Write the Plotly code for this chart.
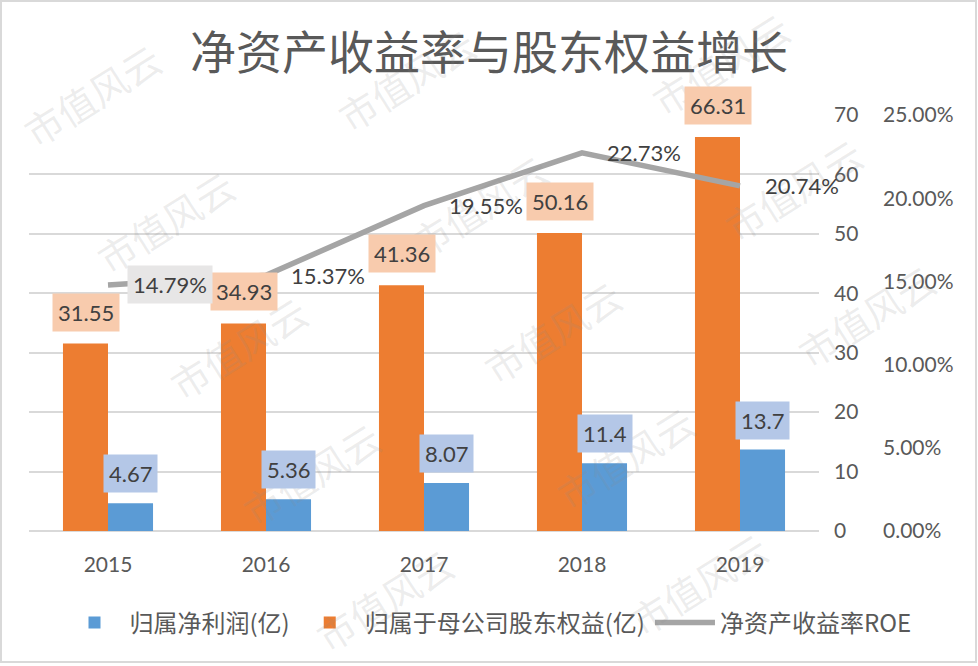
import plotly.graph_objects as go

years = ["2015", "2016", "2017", "2018", "2019"]
net_profit = [4.67, 5.36, 8.07, 11.4, 13.7]
equity = [31.55, 34.93, 41.36, 50.16, 66.31]
roe = [14.79, 15.37, 19.55, 22.73, 20.74]
roe_labels = ["14.79%", "15.37%", "19.55%", "22.73%", "20.74%"]

W, H = 978, 666
L, R, T, B = 29, 0, 115, 135
PW, PH = W - L - R, H - T - B
X_END = 819  # right end of plot area in px

def px(x):
    return (x - L) / PW

def py(y):
    return (H - B - y) / PH

FONT = "Lato, 'Noto Sans CJK SC', sans-serif"
CJK = "'Noto Sans CJK SC', Lato, sans-serif"
TXT = "#595959"

fig = go.Figure()
fig.add_trace(go.Bar(x=years, y=equity, name="归属于母公司股东权益(亿)",
                     marker=dict(color="#ED7D31", line=dict(width=0)),
                     legendrank=2, hoverinfo="y"))
fig.add_trace(go.Bar(x=years, y=net_profit, name="归属净利润(亿)",
                     marker=dict(color="#5B9BD5", line=dict(width=0)),
                     legendrank=1, hoverinfo="y"))
fig.add_trace(go.Scatter(x=years, y=roe, name="净资产收益率ROE", yaxis="y2",
                         mode="lines", line=dict(color="#A5A5A5", width=5.5),
                         legendrank=3))

ann = []
# watermark tiling (drawn first so data labels sit on top)
for i in range(-2, 5):
    for j in range(-1, 7):
        cx = 92 + 314 * i + 73 * j
        cy = 95 - 16 * i + 126 * j
        if 88 <= cx <= 895 and 55 <= cy <= 612:
            ann.append(dict(x=px(cx), y=py(cy), xref="paper", yref="paper",
                            xanchor="center", yanchor="middle",
                            text="市值风云", showarrow=False, textangle=-32,
                            font=dict(family=CJK, size=38, color="rgba(140,140,140,0.16)")))

for i, v in enumerate(equity):
    ann.append(dict(x=i, y=v, xref="x", yref="y", text=f"{v:.2f}", showarrow=False,
                    xshift=-22.5, yshift=12, yanchor="bottom", bgcolor="#F8CBAD",
                    borderpad=5, font=dict(family=FONT, size=22, color="#404040")))
for i, v in enumerate(net_profit):
    ann.append(dict(x=i, y=v, xref="x", yref="y", text=f"{v:g}", showarrow=False,
                    xshift=22.5, yshift=10, yanchor="bottom", bgcolor="#B4C7E7",
                    borderpad=5, font=dict(family=FONT, size=22, color="#404040")))
for i, (v, lab) in enumerate(zip(roe, roe_labels)):
    ann.append(dict(x=i, y=v, xref="x", yref="y2", text=lab, showarrow=False,
                    xshift=19, xanchor="left", yanchor="middle",
                    bgcolor="#E7E6E6" if i == 0 else "rgba(0,0,0,0)",
                    borderpad=5, font=dict(family=FONT, size=22, color="#404040")))

fig.update_layout(
    width=W, height=H,
    margin=dict(l=L, r=R, t=T, b=B),
    paper_bgcolor="white", plot_bgcolor="white",
    font=dict(family=FONT, size=21, color=TXT),
    title=dict(text="净资产收益率与股东权益增长", x=0.5, xref="container",
               y=1 - 53 / H, yref="container", yanchor="middle", xanchor="center",
               font=dict(family=CJK, size=46, color=TXT)),
    barmode="group", bargap=0.43, bargroupgap=0,
    xaxis=dict(domain=[0, px(X_END)], type="category", range=[-0.5, 4.5],
               showgrid=False, showline=False,
               ticks="", ticklabelstandoff=19, tickfont=dict(size=21, color=TXT)),
    yaxis=dict(side="right", range=[0, 70], dtick=10, showgrid=True,
               gridcolor="#D9D9D9", gridwidth=2, zeroline=True, zerolinecolor="#D9D9D9",
               zerolinewidth=2, showline=False, ticks="", ticklabelstandoff=14,
               tickfont=dict(size=21, color=TXT)),
    yaxis2=dict(overlaying="y", side="right", anchor="free", position=px(878),
                range=[0, 25], dtick=5, tickformat=".2f", ticksuffix="%",
                showgrid=False, zeroline=False, showline=False, ticks="",
                ticklabelstandoff=4, tickfont=dict(size=21, color=TXT)),
    legend=dict(orientation="h", x=px(488), xanchor="center", y=py(623), yanchor="middle",
                font=dict(family=CJK, size=24, color=TXT), traceorder="normal",
                itemwidth=60, bgcolor="rgba(0,0,0,0)"),
    annotations=ann,
    shapes=[dict(type="rect", xref="paper", yref="paper", x0=px(1), x1=px(976),
                 y0=py(662), y1=py(1), line=dict(color="#D9D9D9", width=2),
                 fillcolor="rgba(0,0,0,0)", layer="below")],
)

fig.write_html("out.html")
